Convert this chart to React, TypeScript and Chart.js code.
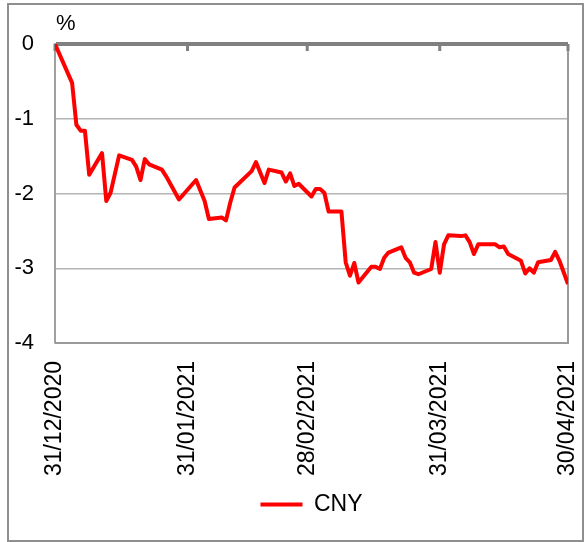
import React, { useEffect, useRef } from "react";
import { Chart, registerables } from "chart.js";

Chart.register(...registerables);

// Days elapsed since 31/12/2020
const days = [
  0, 4, 5, 6, 7, 8, 11, 12, 13, 15, 18, 19, 20, 21, 22, 25, 26, 29, 33, 35, 36, 39, 40, 41, 42,
  46, 47, 49, 50, 53, 54, 55, 56, 57, 60, 61, 62, 63, 64, 67, 68, 69, 70, 71, 74, 75, 76, 77, 78,
  81, 82, 83, 84, 85, 88, 89, 90, 91, 92, 95, 96, 97, 98, 99, 103, 104, 105, 106, 109, 110, 111,
  112, 113, 116, 117, 118, 120,
];
const cny = [
  0, -0.52, -1.08, -1.16, -1.16, -1.75, -1.46, -2.1, -1.99, -1.49, -1.55, -1.64, -1.82, -1.54,
  -1.61, -1.68, -1.77, -2.08, -1.82, -2.1, -2.34, -2.32, -2.36, -2.12, -1.92, -1.7, -1.58, -1.86,
  -1.68, -1.72, -1.84, -1.73, -1.9, -1.87, -2.04, -1.94, -1.94, -1.99, -2.24, -2.24, -2.92, -3.1,
  -2.93, -3.19, -2.98, -2.98, -3.01, -2.86, -2.79, -2.72, -2.86, -2.92, -3.06, -3.08, -3.01, -2.65,
  -3.06, -2.68, -2.56, -2.57, -2.56, -2.65, -2.81, -2.68, -2.68, -2.72, -2.71, -2.81, -2.9, -3.07,
  -3.0, -3.06, -2.92, -2.89, -2.78, -2.9, -3.21,
];
const tickDays = [0, 31, 59, 90, 120];
const tickLabels = ["31/12/2020", "31/01/2021", "28/02/2021", "31/03/2021", "30/04/2021"];
const seriesName = "CNY";
const unitLabel = "%";

const FONT = "'Liberation Sans', Arial, sans-serif";

const framePlugin = {
  id: "frameAndTicks",
  beforeDatasetsDraw(chart: any) {
    const { ctx, chartArea, scales } = chart;
    ctx.save();
    ctx.strokeStyle = "#9a9a9a";
    ctx.lineWidth = 2;
    ctx.beginPath();
    ctx.moveTo(chartArea.right, chartArea.top);
    ctx.lineTo(chartArea.right, chartArea.bottom);
    ctx.lineTo(chartArea.left, chartArea.bottom);
    ctx.stroke();
    const y0 = scales.y.getPixelForValue(0);
    ctx.strokeStyle = "#808080";
    ctx.lineWidth = 3;
    tickDays.forEach((d) => {
      const x = scales.x.getPixelForValue(d);
      ctx.beginPath();
      ctx.moveTo(x, y0);
      ctx.lineTo(x, y0 + 7);
      ctx.stroke();
    });
    ctx.restore();
  },
  afterDraw(chart: any) {
    const { ctx, chartArea } = chart;
    ctx.save();
    ctx.fillStyle = "#000";
    ctx.font = `22px ${FONT}`;
    ctx.textAlign = "left";
    ctx.textBaseline = "alphabetic";
    ctx.fillText(unitLabel, chartArea.left + 1, chartArea.top - 14);
    ctx.restore();
  },
};

export default function App() {
  const ref = useRef<HTMLCanvasElement | null>(null);

  useEffect(() => {
    document.body.style.margin = "0";
    const canvas = ref.current!;
    const chart = new Chart(canvas, {
      type: "line",
      data: {
        datasets: [
          {
            label: seriesName,
            data: days.map((d, i) => ({ x: d, y: cny[i] })),
            borderColor: "#ff0000",
            backgroundColor: "#ff0000",
            borderWidth: 4,
            pointRadius: 0,
            tension: 0,
            borderJoinStyle: "round",
          },
        ],
      },
      options: {
        animation: false,
        responsive: false,
        maintainAspectRatio: false,
        layout: { padding: { left: 0, right: 14, top: 39, bottom: 14 } },
        plugins: {
          tooltip: { enabled: false },
          legend: {
            display: true,
            position: "bottom",
            fullSize: false,
            labels: {
              font: { family: FONT, size: 23 },
              color: "#000",
              usePointStyle: true,
              pointStyle: "line",
              pointStyleWidth: 42,
              padding: 10,
            },
          },
        },
        scales: {
          x: {
            type: "linear",
            min: 0,
            max: 120,
            afterBuildTicks: (scale: any) => {
              scale.ticks = tickDays.map((v) => ({ value: v }));
            },
            afterFit: (scale: any) => {
              scale.height = 140;
              scale.paddingLeft = 0;
              scale.paddingRight = 0;
            },
            ticks: {
              autoSkip: false,
              minRotation: 90,
              maxRotation: 90,
              padding: 18,
              color: "#000",
              font: { family: FONT, size: 23 },
              callback: (v: any) => {
                const i = tickDays.indexOf(Number(v));
                return i >= 0 ? tickLabels[i] : "";
              },
            },
            grid: { display: false, drawTicks: false },
            border: { display: false },
          },
          y: {
            min: -4,
            max: 0,
            afterFit: (scale: any) => {
              scale.width = 46;
              scale.paddingTop = 0;
              scale.paddingBottom = 0;
            },
            ticks: {
              stepSize: 1,
              padding: 21,
              color: "#000",
              font: { family: FONT, size: 22 },
            },
            grid: {
              drawTicks: false,
              color: (c: any) => (c.tick && c.tick.value === 0 ? "#808080" : "#b4b4b4"),
              lineWidth: (c: any) => (c.tick && c.tick.value === 0 ? 4 : 1.5),
            },
            border: { display: true, color: "#a0a0a0", width: 2 },
          },
        },
      },
      plugins: [framePlugin],
    } as any);
    return () => chart.destroy();
  }, []);

  return (
    <div
      style={{
        position: "absolute",
        left: 7,
        top: 3,
        width: 577,
        height: 539,
        border: "2px solid #8f8f8f",
        boxSizing: "border-box",
        background: "#fff",
      }}
    >
      <canvas ref={ref} width={573} height={535} style={{ display: "block", width: 573, height: 535 }} />
    </div>
  );
}
